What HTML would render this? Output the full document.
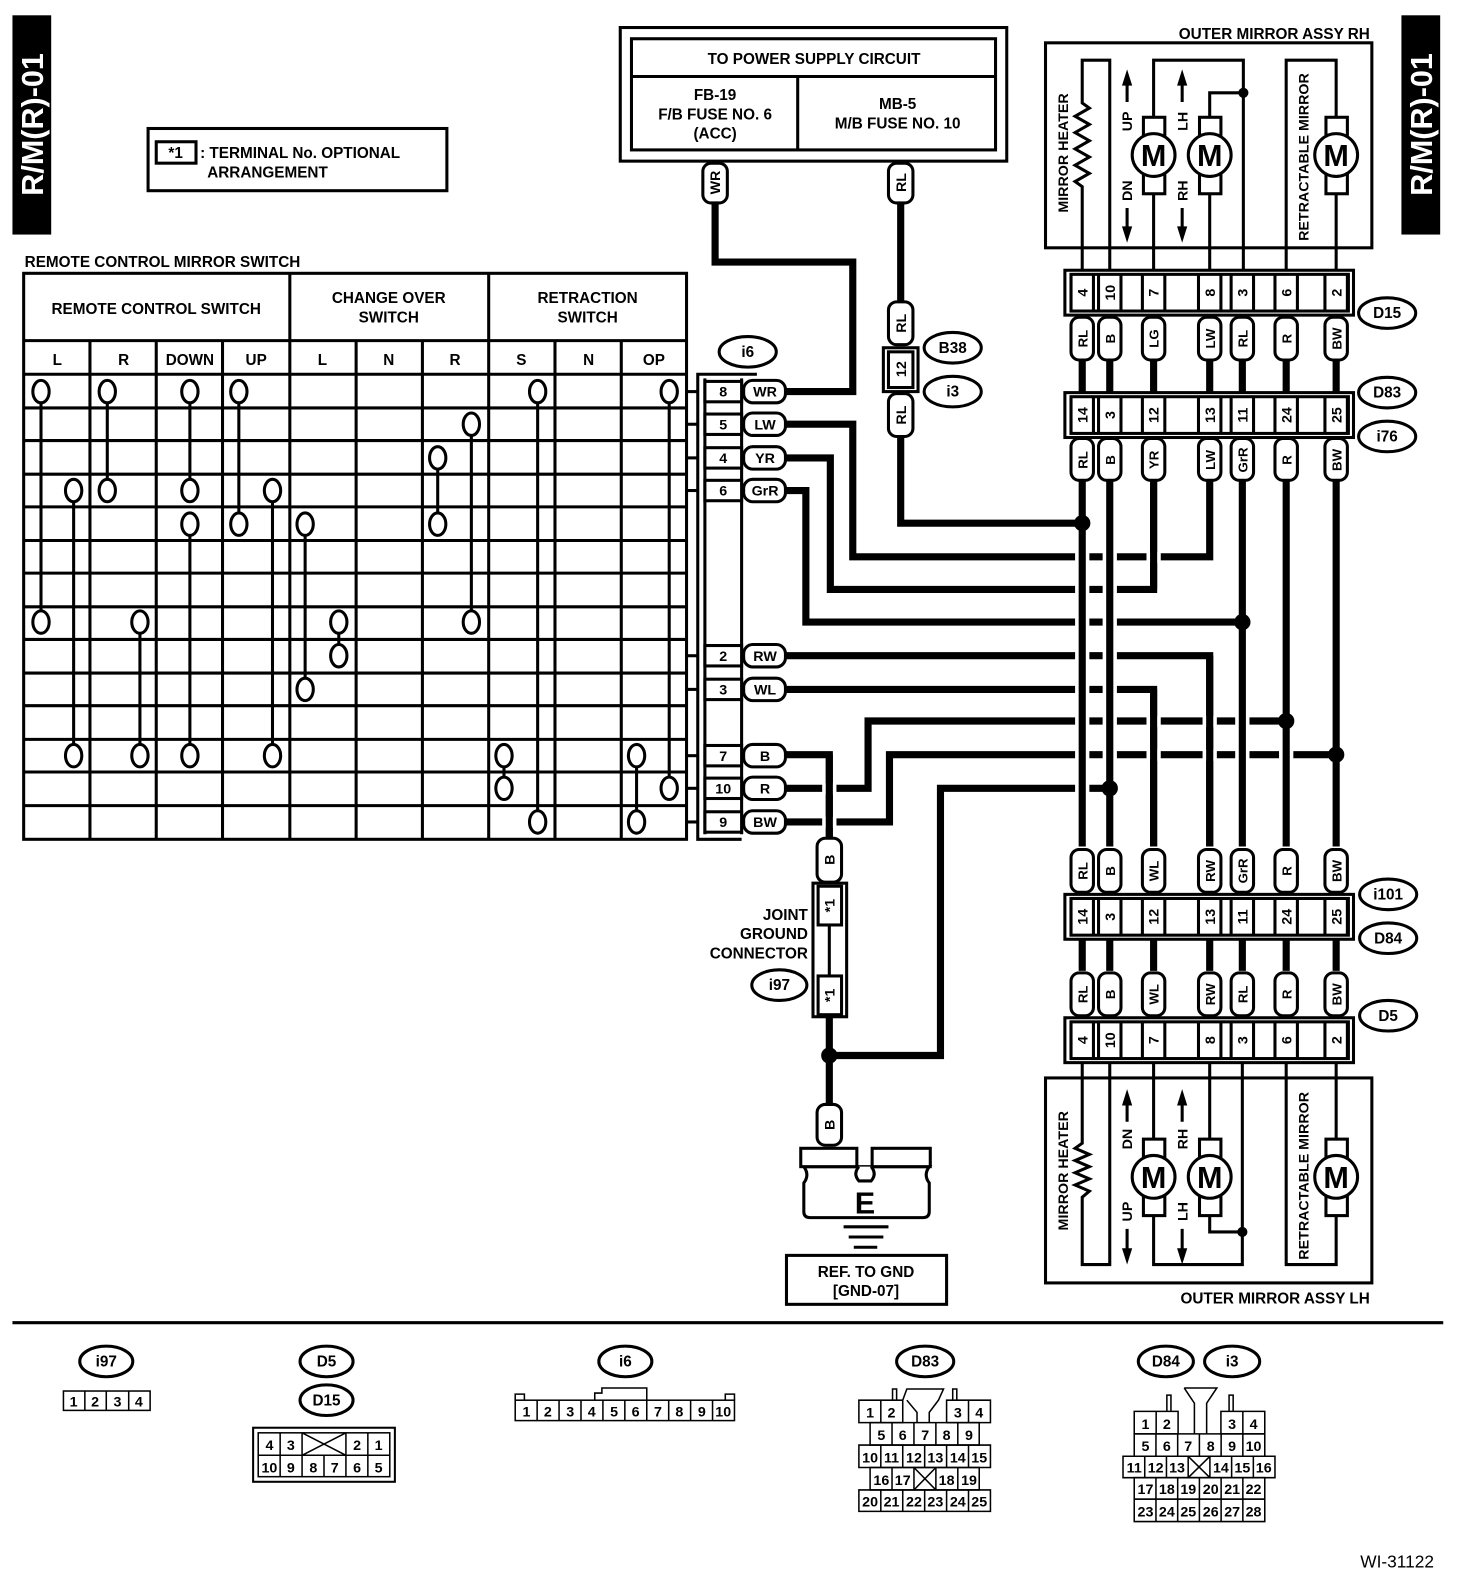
<!DOCTYPE html>
<html><head><meta charset="utf-8"><style>
html,body{margin:0;padding:0;background:#fff;}
svg{display:block;}
text{font-family:"Liberation Sans",Arial,sans-serif;font-weight:bold;fill:#000;}
</style></head><body>
<svg width="1472" height="1596" viewBox="0 0 1443 1565" xmlns="http://www.w3.org/2000/svg">
<rect width="1443" height="1565" fill="#fff"/>
<!-- side tags -->
<rect x="12" y="15" width="38" height="215" fill="#000"/>
<text transform="translate(42,122) rotate(-90)" text-anchor="middle" font-size="30" style="fill:#fff">R/M(R)-01</text>
<rect x="1374" y="15" width="38" height="215" fill="#000"/>
<text transform="translate(1404,122) rotate(-90)" text-anchor="middle" font-size="30" style="fill:#fff">R/M(R)-01</text>

<!-- legend -->
<rect x="145" y="126" width="293" height="61" fill="none" stroke="#000" stroke-width="3"/>
<rect x="153" y="139" width="39" height="21" fill="none" stroke="#000" stroke-width="3"/>
<text x="172" y="155" text-anchor="middle" font-size="15">*1</text>
<text x="196" y="155" font-size="15">: TERMINAL No. OPTIONAL</text>
<text x="203" y="174" font-size="15">ARRANGEMENT</text>

<!-- table -->
<text x="24" y="262" font-size="15">REMOTE CONTROL MIRROR SWITCH</text>
<g stroke="#000" stroke-width="3" fill="none">
<rect x="23" y="268" width="650" height="555"/>
<line x1="23" y1="334" x2="673" y2="334"/>
<line x1="23" y1="367" x2="673" y2="367"/>
<line x1="23" y1="400" x2="673" y2="400"/><line x1="23" y1="432" x2="673" y2="432"/>
<line x1="23" y1="465" x2="673" y2="465"/><line x1="23" y1="497" x2="673" y2="497"/>
<line x1="23" y1="530" x2="673" y2="530"/><line x1="23" y1="562" x2="673" y2="562"/>
<line x1="23" y1="595" x2="673" y2="595"/><line x1="23" y1="627" x2="673" y2="627"/>
<line x1="23" y1="660" x2="673" y2="660"/><line x1="23" y1="692" x2="673" y2="692"/>
<line x1="23" y1="725" x2="673" y2="725"/><line x1="23" y1="757" x2="673" y2="757"/>
<line x1="23" y1="790" x2="673" y2="790"/>
<line x1="284" y1="268" x2="284" y2="823"/><line x1="479" y1="268" x2="479" y2="823"/>
<line x1="88" y1="334" x2="88" y2="823"/><line x1="153" y1="334" x2="153" y2="823"/>
<line x1="218" y1="334" x2="218" y2="823"/><line x1="349" y1="334" x2="349" y2="823"/>
<line x1="414" y1="334" x2="414" y2="823"/><line x1="544" y1="334" x2="544" y2="823"/>
<line x1="609" y1="334" x2="609" y2="823"/>
<!-- connection lines -->
<line x1="40" y1="384" x2="40" y2="610"/><line x1="105" y1="384" x2="105" y2="481"/>
<line x1="186" y1="384" x2="186" y2="481"/><line x1="186" y1="514" x2="186" y2="741"/>
<line x1="234" y1="384" x2="234" y2="514"/><line x1="267" y1="481" x2="267" y2="741"/>
<line x1="72" y1="481" x2="72" y2="741"/><line x1="137" y1="610" x2="137" y2="741"/>
<line x1="299" y1="514" x2="299" y2="676"/><line x1="332" y1="610" x2="332" y2="643"/>
<line x1="429" y1="449" x2="429" y2="514"/><line x1="462" y1="416" x2="462" y2="610"/>
<line x1="527" y1="384" x2="527" y2="806"/><line x1="494" y1="741" x2="494" y2="773"/>
<line x1="624" y1="741" x2="624" y2="806"/><line x1="656" y1="384" x2="656" y2="773"/>
<!-- stubs to i6 -->
<line x1="673" y1="384" x2="684" y2="384"/><line x1="673" y1="416" x2="684" y2="416"/>
<line x1="673" y1="449" x2="684" y2="449"/><line x1="673" y1="481" x2="684" y2="481"/>
<line x1="673" y1="643" x2="684" y2="643"/><line x1="673" y1="676" x2="684" y2="676"/>
<line x1="673" y1="741" x2="684" y2="741"/><line x1="673" y1="773" x2="684" y2="773"/>
<line x1="673" y1="806" x2="684" y2="806"/>
</g>
<g fill="#fff" stroke="#000" stroke-width="3">
<ellipse cx="40" cy="384" rx="8" ry="11"/><ellipse cx="105" cy="384" rx="8" ry="11"/><ellipse cx="186" cy="384" rx="8" ry="11"/><ellipse cx="234" cy="384" rx="8" ry="11"/><ellipse cx="527" cy="384" rx="8" ry="11"/><ellipse cx="656" cy="384" rx="8" ry="11"/>
<ellipse cx="462" cy="416" rx="8" ry="11"/><ellipse cx="429" cy="449" rx="8" ry="11"/>
<ellipse cx="72" cy="481" rx="8" ry="11"/><ellipse cx="105" cy="481" rx="8" ry="11"/><ellipse cx="186" cy="481" rx="8" ry="11"/><ellipse cx="267" cy="481" rx="8" ry="11"/>
<ellipse cx="186" cy="514" rx="8" ry="11"/><ellipse cx="234" cy="514" rx="8" ry="11"/><ellipse cx="299" cy="514" rx="8" ry="11"/><ellipse cx="429" cy="514" rx="8" ry="11"/>
<ellipse cx="40" cy="610" rx="8" ry="11"/><ellipse cx="137" cy="610" rx="8" ry="11"/><ellipse cx="332" cy="610" rx="8" ry="11"/><ellipse cx="462" cy="610" rx="8" ry="11"/>
<ellipse cx="332" cy="643" rx="8" ry="11"/><ellipse cx="299" cy="676" rx="8" ry="11"/>
<ellipse cx="72" cy="741" rx="8" ry="11"/><ellipse cx="137" cy="741" rx="8" ry="11"/><ellipse cx="186" cy="741" rx="8" ry="11"/><ellipse cx="267" cy="741" rx="8" ry="11"/><ellipse cx="494" cy="741" rx="8" ry="11"/><ellipse cx="624" cy="741" rx="8" ry="11"/>
<ellipse cx="494" cy="773" rx="8" ry="11"/><ellipse cx="656" cy="773" rx="8" ry="11"/>
<ellipse cx="527" cy="806" rx="8" ry="11"/><ellipse cx="624" cy="806" rx="8" ry="11"/>
</g>
<g font-size="15" text-anchor="middle">
<text x="153" y="308">REMOTE CONTROL SWITCH</text>
<text x="381" y="297">CHANGE OVER</text><text x="381" y="316">SWITCH</text>
<text x="576" y="297">RETRACTION</text><text x="576" y="316">SWITCH</text>
<text x="56" y="358">L</text><text x="121" y="358">R</text><text x="186" y="358">DOWN</text><text x="251" y="358">UP</text>
<text x="316" y="358">L</text><text x="381" y="358">N</text><text x="446" y="358">R</text>
<text x="511" y="358">S</text><text x="577" y="358">N</text><text x="641" y="358">OP</text>
</g>

<!-- power supply box -->
<rect x="608" y="27" width="379" height="131" fill="none" stroke="#000" stroke-width="3"/>
<rect x="619" y="38" width="357" height="109" fill="none" stroke="#000" stroke-width="3"/>
<line x1="619" y1="75" x2="976" y2="75" stroke="#000" stroke-width="3"/>
<line x1="782" y1="75" x2="782" y2="147" stroke="#000" stroke-width="3"/>
<g font-size="15" text-anchor="middle">
<text x="798" y="63">TO POWER SUPPLY CIRCUIT</text>
<text x="701" y="98">FB-19</text><text x="701" y="117">F/B FUSE NO. 6</text><text x="701" y="136">(ACC)</text>
<text x="880" y="107">MB-5</text><text x="880" y="126">M/B FUSE NO. 10</text>
</g>

<!-- wires -->
<g fill="none" stroke="#000" stroke-width="7" stroke-linejoin="miter">
<path d="M701 198 V257 H836 V384 H770"/>
<path d="M883 198 V296"/>
<path d="M883 427 V513 H1061"/>
<path d="M770 416 H836 V546 H1186 V470"/>
<path d="M770 449 H814 V578 H1131 V470"/>
<path d="M770 481 H790 V610 H1218"/>
<path d="M770 643 H1186 V830"/>
<path d="M770 676 H1131 V830"/>
<path d="M770 740 H813 V822"/>
<path d="M770 773 H851 V707 H1261"/>
<path d="M770 806 H872 V740 H1310"/>
<path d="M813 997 V1083"/>
<path d="M813 1035 H922 V773 H1088"/>
</g>
<!-- gaps -->
<g fill="#fff">
<rect x="1054" y="541" width="14" height="11"/><rect x="1081" y="541" width="14" height="11"/><rect x="1124" y="541" width="14" height="11"/>
<rect x="1054" y="573" width="14" height="11"/><rect x="1081" y="573" width="14" height="11"/>
<rect x="1054" y="605" width="14" height="11"/><rect x="1081" y="605" width="14" height="11"/>
<rect x="1054" y="638" width="14" height="11"/><rect x="1081" y="638" width="14" height="11"/>
<rect x="1054" y="671" width="14" height="11"/><rect x="1081" y="671" width="14" height="11"/>
<rect x="1054" y="702" width="14" height="11"/><rect x="1081" y="702" width="14" height="11"/><rect x="1124" y="702" width="14" height="11"/><rect x="1179" y="702" width="14" height="11"/><rect x="1211" y="702" width="14" height="11"/>
<rect x="1054" y="735" width="14" height="11"/><rect x="1081" y="735" width="14" height="11"/><rect x="1124" y="735" width="14" height="11"/><rect x="1179" y="735" width="14" height="11"/><rect x="1211" y="735" width="14" height="11"/><rect x="1254" y="735" width="14" height="11"/>
<rect x="1054" y="768" width="14" height="11"/>
<rect x="806" y="768" width="14" height="11"/><rect x="806" y="801" width="14" height="11"/>
</g>
<g fill="none" stroke="#000" stroke-width="7">
<path d="M1061 470 V830"/><path d="M1088 470 V830"/><path d="M1218 470 V830"/><path d="M1261 470 V830"/><path d="M1310 470 V830"/>
<path d="M1131 470 V578"/><path d="M1131 676 V830"/><path d="M1186 643 V830"/>
<path d="M813 740 V822"/>
<!-- connector to connector short wires -->
<path d="M1061 353 V385 M1088 353 V385 M1131 353 V385 M1186 353 V385 M1218 353 V385 M1261 353 V385 M1310 353 V385"/>
<path d="M1061 921 V952 M1088 921 V952 M1131 921 V952 M1186 921 V952 M1218 921 V952 M1261 921 V952 M1310 921 V952"/>
</g>
<g fill="#000">
<circle cx="1061" cy="513" r="8"/><circle cx="1218" cy="610" r="8"/><circle cx="1261" cy="707" r="8"/><circle cx="1310" cy="740" r="8"/><circle cx="1088" cy="773" r="8"/><circle cx="813" cy="1035" r="8"/>
</g>

<!-- i6 connector -->
<g fill="none" stroke="#000" stroke-width="3">
<path d="M742 367 H684 V823 H727"/>
<line x1="691" y1="371" x2="691" y2="818"/><line x1="727" y1="371" x2="727" y2="818"/>
</g>
<g fill="#fff" stroke="#000" stroke-width="3">
<rect x="691" y="374" width="36" height="20"/><rect x="691" y="406" width="36" height="20"/><rect x="691" y="439" width="36" height="20"/><rect x="691" y="471" width="36" height="20"/>
<rect x="691" y="633" width="36" height="20"/><rect x="691" y="666" width="36" height="20"/><rect x="691" y="731" width="36" height="20"/><rect x="691" y="763" width="36" height="20"/><rect x="691" y="796" width="36" height="20"/>
<rect x="729" y="373" width="41" height="22" rx="9"/><rect x="729" y="405" width="41" height="22" rx="9"/><rect x="729" y="438" width="41" height="22" rx="9"/><rect x="729" y="470" width="41" height="22" rx="9"/>
<rect x="729" y="632" width="41" height="22" rx="9"/><rect x="729" y="665" width="41" height="22" rx="9"/><rect x="729" y="730" width="41" height="22" rx="9"/><rect x="729" y="762" width="41" height="22" rx="9"/><rect x="729" y="795" width="41" height="22" rx="9"/>
</g>
<g font-size="14" text-anchor="middle">
<text x="709" y="389">8</text><text x="709" y="421">5</text><text x="709" y="454">4</text><text x="709" y="486">6</text>
<text x="709" y="648">2</text><text x="709" y="681">3</text><text x="709" y="746">7</text><text x="709" y="778">10</text><text x="709" y="811">9</text>
<text x="750" y="389">WR</text><text x="750" y="421">LW</text><text x="750" y="454">YR</text><text x="750" y="486">GrR</text>
<text x="750" y="648">RW</text><text x="750" y="681">WL</text><text x="750" y="746">B</text><text x="750" y="778">R</text><text x="750" y="811">BW</text>
</g>

<!-- ovals -->
<g fill="#fff" stroke="#000" stroke-width="3">
<ellipse cx="733" cy="345" rx="28" ry="15"/>
<ellipse cx="934" cy="341" rx="28" ry="15"/><ellipse cx="934" cy="384" rx="28" ry="15"/>
<ellipse cx="1360" cy="307" rx="28" ry="15"/><ellipse cx="1360" cy="385" rx="28" ry="15"/><ellipse cx="1360" cy="428" rx="28" ry="15"/>
<ellipse cx="1361" cy="877" rx="28" ry="15"/><ellipse cx="1361" cy="920" rx="28" ry="15"/><ellipse cx="1361" cy="996" rx="28" ry="15"/>
<ellipse cx="764" cy="966" rx="27" ry="15"/>
<ellipse cx="104" cy="1335" rx="26" ry="15"/><ellipse cx="320" cy="1335" rx="26" ry="15"/><ellipse cx="320" cy="1373" rx="26" ry="15"/>
<ellipse cx="613" cy="1335" rx="26" ry="15"/><ellipse cx="907" cy="1335" rx="28" ry="15"/>
<ellipse cx="1143" cy="1335" rx="27" ry="15"/><ellipse cx="1208" cy="1335" rx="27" ry="15"/>
</g>
<g font-size="15" text-anchor="middle">
<text x="733" y="350">i6</text><text x="934" y="346">B38</text><text x="934" y="389">i3</text>
<text x="1360" y="312">D15</text><text x="1360" y="390">D83</text><text x="1360" y="433">i76</text>
<text x="1361" y="882">i101</text><text x="1361" y="925">D84</text><text x="1361" y="1001">D5</text>
<text x="764" y="971">i97</text>
<text x="104" y="1340">i97</text><text x="320" y="1340">D5</text><text x="320" y="1378">D15</text>
<text x="613" y="1340">i6</text><text x="907" y="1340">D83</text><text x="1143" y="1340">D84</text><text x="1208" y="1340">i3</text>
</g>

<!-- vertical tags -->
<g fill="#fff" stroke="#000" stroke-width="3">
<rect x="689" y="160" width="24" height="39" rx="8"/>
<rect x="871" y="160" width="24" height="39" rx="8"/>
<rect x="871" y="296" width="24" height="42" rx="8"/>
<rect x="871" y="386" width="24" height="42" rx="8"/>
<rect x="866" y="341" width="34" height="43"/>
<rect x="871" y="345" width="24" height="35"/>
<rect x="801" y="822" width="24" height="43" rx="8"/>
<rect x="801" y="1083" width="24" height="40" rx="8"/>
</g>
<g font-size="14" text-anchor="middle">
<text transform="translate(706,179) rotate(-90)">WR</text>
<text transform="translate(888,179) rotate(-90)">RL</text>
<text transform="translate(888,317) rotate(-90)">RL</text>
<text transform="translate(888,362) rotate(-90)">12</text>
<text transform="translate(888,407) rotate(-90)">RL</text>
<text transform="translate(818,843) rotate(-90)">B</text>
<text transform="translate(818,1103) rotate(-90)">B</text>
</g>

<!-- right connector strips -->
<g fill="none" stroke="#000" stroke-width="3">
<rect x="1044" y="265" width="283" height="44"/><rect x="1050" y="269" width="272" height="36" fill="#fff"/>
<rect x="1044" y="385" width="283" height="44"/><rect x="1050" y="389" width="272" height="36" fill="#fff"/>
<rect x="1044" y="877" width="283" height="44"/><rect x="1050" y="881" width="272" height="36" fill="#fff"/>
<rect x="1044" y="998" width="283" height="44"/><rect x="1050" y="1002" width="272" height="36" fill="#fff"/>
<path d="M1050 269 V305 M1072 269 V305 M1077 269 V305 M1099 269 V305 M1120 269 V305 M1142 269 V305 M1175 269 V305 M1197 269 V305 M1207 269 V305 M1229 269 V305 M1250 269 V305 M1272 269 V305 M1299 269 V305 M1321 269 V305"/>
<path d="M1050 389 V425 M1072 389 V425 M1077 389 V425 M1099 389 V425 M1120 389 V425 M1142 389 V425 M1175 389 V425 M1197 389 V425 M1207 389 V425 M1229 389 V425 M1250 389 V425 M1272 389 V425 M1299 389 V425 M1321 389 V425"/>
<path d="M1050 881 V917 M1072 881 V917 M1077 881 V917 M1099 881 V917 M1120 881 V917 M1142 881 V917 M1175 881 V917 M1197 881 V917 M1207 881 V917 M1229 881 V917 M1250 881 V917 M1272 881 V917 M1299 881 V917 M1321 881 V917"/>
<path d="M1050 1002 V1038 M1072 1002 V1038 M1077 1002 V1038 M1099 1002 V1038 M1120 1002 V1038 M1142 1002 V1038 M1175 1002 V1038 M1197 1002 V1038 M1207 1002 V1038 M1229 1002 V1038 M1250 1002 V1038 M1272 1002 V1038 M1299 1002 V1038 M1321 1002 V1038"/>
</g>
<g font-size="14" text-anchor="middle">
<text transform="translate(1066,287) rotate(-90)">4</text><text transform="translate(1093,287) rotate(-90)">10</text><text transform="translate(1136,287) rotate(-90)">7</text><text transform="translate(1191,287) rotate(-90)">8</text><text transform="translate(1223,287) rotate(-90)">3</text><text transform="translate(1266,287) rotate(-90)">6</text><text transform="translate(1315,287) rotate(-90)">2</text>
<text transform="translate(1066,407) rotate(-90)">14</text><text transform="translate(1093,407) rotate(-90)">3</text><text transform="translate(1136,407) rotate(-90)">12</text><text transform="translate(1191,407) rotate(-90)">13</text><text transform="translate(1223,407) rotate(-90)">11</text><text transform="translate(1266,407) rotate(-90)">24</text><text transform="translate(1315,407) rotate(-90)">25</text>
<text transform="translate(1066,899) rotate(-90)">14</text><text transform="translate(1093,899) rotate(-90)">3</text><text transform="translate(1136,899) rotate(-90)">12</text><text transform="translate(1191,899) rotate(-90)">13</text><text transform="translate(1223,899) rotate(-90)">11</text><text transform="translate(1266,899) rotate(-90)">24</text><text transform="translate(1315,899) rotate(-90)">25</text>
<text transform="translate(1066,1020) rotate(-90)">4</text><text transform="translate(1093,1020) rotate(-90)">10</text><text transform="translate(1136,1020) rotate(-90)">7</text><text transform="translate(1191,1020) rotate(-90)">8</text><text transform="translate(1223,1020) rotate(-90)">3</text><text transform="translate(1266,1020) rotate(-90)">6</text><text transform="translate(1315,1020) rotate(-90)">2</text>
</g>
<!-- right tags -->
<g fill="#fff" stroke="#000" stroke-width="3">
<rect x="1050" y="311" width="22" height="42" rx="8"/><rect x="1077" y="311" width="22" height="42" rx="8"/><rect x="1120" y="311" width="22" height="42" rx="8"/><rect x="1175" y="311" width="22" height="42" rx="8"/><rect x="1207" y="311" width="22" height="42" rx="8"/><rect x="1250" y="311" width="22" height="42" rx="8"/><rect x="1299" y="311" width="22" height="42" rx="8"/>
<rect x="1050" y="430" width="22" height="41" rx="8"/><rect x="1077" y="430" width="22" height="41" rx="8"/><rect x="1120" y="430" width="22" height="41" rx="8"/><rect x="1175" y="430" width="22" height="41" rx="8"/><rect x="1207" y="430" width="22" height="41" rx="8"/><rect x="1250" y="430" width="22" height="41" rx="8"/><rect x="1299" y="430" width="22" height="41" rx="8"/>
<rect x="1050" y="833" width="22" height="42" rx="8"/><rect x="1077" y="833" width="22" height="42" rx="8"/><rect x="1120" y="833" width="22" height="42" rx="8"/><rect x="1175" y="833" width="22" height="42" rx="8"/><rect x="1207" y="833" width="22" height="42" rx="8"/><rect x="1250" y="833" width="22" height="42" rx="8"/><rect x="1299" y="833" width="22" height="42" rx="8"/>
<rect x="1050" y="954" width="22" height="42" rx="8"/><rect x="1077" y="954" width="22" height="42" rx="8"/><rect x="1120" y="954" width="22" height="42" rx="8"/><rect x="1175" y="954" width="22" height="42" rx="8"/><rect x="1207" y="954" width="22" height="42" rx="8"/><rect x="1250" y="954" width="22" height="42" rx="8"/><rect x="1299" y="954" width="22" height="42" rx="8"/>
</g>
<g font-size="13" text-anchor="middle">
<text transform="translate(1066,332) rotate(-90)">RL</text><text transform="translate(1093,332) rotate(-90)">B</text><text transform="translate(1136,332) rotate(-90)">LG</text><text transform="translate(1191,332) rotate(-90)">LW</text><text transform="translate(1223,332) rotate(-90)">RL</text><text transform="translate(1266,332) rotate(-90)">R</text><text transform="translate(1315,332) rotate(-90)">BW</text>
<text transform="translate(1066,451) rotate(-90)">RL</text><text transform="translate(1093,451) rotate(-90)">B</text><text transform="translate(1136,451) rotate(-90)">YR</text><text transform="translate(1191,451) rotate(-90)">LW</text><text transform="translate(1223,451) rotate(-90)">GrR</text><text transform="translate(1266,451) rotate(-90)">R</text><text transform="translate(1315,451) rotate(-90)">BW</text>
<text transform="translate(1066,854) rotate(-90)">RL</text><text transform="translate(1093,854) rotate(-90)">B</text><text transform="translate(1136,854) rotate(-90)">WL</text><text transform="translate(1191,854) rotate(-90)">RW</text><text transform="translate(1223,854) rotate(-90)">GrR</text><text transform="translate(1266,854) rotate(-90)">R</text><text transform="translate(1315,854) rotate(-90)">BW</text>
<text transform="translate(1066,975) rotate(-90)">RL</text><text transform="translate(1093,975) rotate(-90)">B</text><text transform="translate(1136,975) rotate(-90)">WL</text><text transform="translate(1191,975) rotate(-90)">RW</text><text transform="translate(1223,975) rotate(-90)">RL</text><text transform="translate(1266,975) rotate(-90)">R</text><text transform="translate(1315,975) rotate(-90)">BW</text>
</g>

<!-- upper mirror RH -->
<text x="1343" y="38" text-anchor="end" font-size="15">OUTER MIRROR ASSY RH</text>
<rect x="1025" y="42" width="320" height="201" fill="none" stroke="#000" stroke-width="3"/>
<g fill="none" stroke="#000" stroke-width="3">
<path d="M1061 265 V183 L1054 178 L1068 170 L1054 162 L1068 154 L1054 146 L1068 138 L1054 130 L1068 122 L1054 114 L1068 106 L1061 101 V59 H1088 V265"/>
<path d="M1131 265 V190 M1131 115 V59 H1219 V265"/>
<path d="M1186 265 V190 M1186 115 V91 H1219"/>
<path d="M1261 265 V59 H1310 V115 M1310 190 V265"/>
<rect x="1121" y="115" width="21" height="75" fill="#fff"/>
<rect x="1176" y="115" width="21" height="75" fill="#fff"/>
<rect x="1300" y="115" width="21" height="75" fill="#fff"/>
<circle cx="1131" cy="152" r="21" fill="#fff"/><circle cx="1186" cy="152" r="21" fill="#fff"/><circle cx="1310" cy="152" r="21" fill="#fff"/>
<path d="M1105 82 V100 M1105 204 V225 M1159 82 V100 M1159 204 V225"/>
</g>
<circle cx="1219" cy="91" r="5" fill="#000"/>
<g fill="#000"><path d="M1105 68 L1100 84 H1110Z M1105 238 L1100 222 H1110Z M1159 68 L1154 84 H1164Z M1159 238 L1154 222 H1164Z"/></g>
<g font-size="30" text-anchor="middle"><text x="1131" y="163">M</text><text x="1186" y="163">M</text><text x="1310" y="163">M</text></g>
<g font-size="14" text-anchor="middle">
<text transform="translate(1047,150) rotate(-90)">MIRROR HEATER</text>
<text transform="translate(1283,154) rotate(-90)">RETRACTABLE MIRROR</text>
<text transform="translate(1110,119) rotate(-90)">UP</text><text transform="translate(1110,187) rotate(-90)">DN</text>
<text transform="translate(1164,119) rotate(-90)">LH</text><text transform="translate(1164,187) rotate(-90)">RH</text>
</g>

<!-- lower mirror LH -->
<rect x="1025" y="1057" width="320" height="201" fill="none" stroke="#000" stroke-width="3"/>
<g fill="none" stroke="#000" stroke-width="3">
<path d="M1061 1042 V1121 L1054 1126 L1068 1132 L1054 1138 L1068 1144 L1054 1150 L1068 1156 L1054 1162 L1068 1168 L1061 1174 V1240 H1088 V1042"/>
<path d="M1131 1042 V1117 M1131 1192 V1240 H1218 V1042"/>
<path d="M1186 1042 V1117 M1186 1192 V1208 H1218"/>
<path d="M1310 1042 V1117 M1310 1192 V1240 H1261 V1042"/>
<rect x="1121" y="1117" width="21" height="75" fill="#fff"/>
<rect x="1176" y="1117" width="21" height="75" fill="#fff"/>
<rect x="1300" y="1117" width="21" height="75" fill="#fff"/>
<circle cx="1131" cy="1154" r="21" fill="#fff"/><circle cx="1186" cy="1154" r="21" fill="#fff"/><circle cx="1310" cy="1154" r="21" fill="#fff"/>
<path d="M1105 1082 V1100 M1105 1205 V1226 M1159 1082 V1100 M1159 1205 V1226"/>
</g>
<circle cx="1218" cy="1208" r="5" fill="#000"/>
<g fill="#000"><path d="M1105 1068 L1100 1084 H1110Z M1105 1240 L1100 1224 H1110Z M1159 1068 L1154 1084 H1164Z M1159 1240 L1154 1224 H1164Z"/></g>
<g font-size="30" text-anchor="middle"><text x="1131" y="1165">M</text><text x="1186" y="1165">M</text><text x="1310" y="1165">M</text></g>
<g font-size="14" text-anchor="middle">
<text transform="translate(1047,1148) rotate(-90)">MIRROR HEATER</text>
<text transform="translate(1283,1153) rotate(-90)">RETRACTABLE MIRROR</text>
<text transform="translate(1110,1117) rotate(-90)">DN</text><text transform="translate(1110,1188) rotate(-90)">UP</text>
<text transform="translate(1164,1117) rotate(-90)">RH</text><text transform="translate(1164,1188) rotate(-90)">LH</text>
</g>
<text x="1343" y="1278" text-anchor="end" font-size="15">OUTER MIRROR ASSY LH</text>

<!-- joint ground connector -->
<g fill="#fff" stroke="#000" stroke-width="3">
<rect x="797" y="866" width="33" height="131"/>
<rect x="802" y="869" width="23" height="38"/>
<rect x="802" y="957" width="23" height="38"/>
</g>
<line x1="813" y1="907" x2="813" y2="957" stroke="#000" stroke-width="3"/>
<g font-size="14" text-anchor="middle">
<text transform="translate(818,888) rotate(-90)">*1</text>
<text transform="translate(818,976) rotate(-90)">*1</text>
</g>
<g font-size="15" text-anchor="end">
<text x="792" y="902">JOINT</text><text x="792" y="921">GROUND</text><text x="792" y="940">CONNECTOR</text>
</g>
<!-- ground E -->
<g fill="#fff" stroke="#000" stroke-width="3">
<path d="M788 1144 H911 Q905 1152 911 1160 V1188 Q911 1194 905 1194 H794 Q788 1194 788 1188 V1160 Q794 1152 788 1144 Z"/>
<path d="M842 1144 Q836 1151 842 1158 H854 Q860 1151 854 1144"/>
<rect x="785" y="1126" width="55" height="18"/>
<rect x="855" y="1126" width="57" height="18"/>
</g>
<text x="848" y="1190" text-anchor="middle" font-size="30">E</text>
<g stroke="#000" stroke-width="3"><line x1="827" y1="1203" x2="871" y2="1203"/><line x1="832" y1="1213" x2="866" y2="1213"/><line x1="837" y1="1223" x2="860" y2="1223"/></g>
<rect x="771" y="1231" width="157" height="48" fill="none" stroke="#000" stroke-width="3"/>
<g font-size="15" text-anchor="middle"><text x="849" y="1252">REF. TO GND</text><text x="849" y="1271">[GND-07]</text></g>

<line x1="12" y1="1297" x2="1415" y2="1297" stroke="#000" stroke-width="3"/>

<!-- bottom connector diagrams -->
<g fill="none" stroke="#000" stroke-width="1.5">
<rect x="62" y="1364" width="85" height="19"/><path d="M83 1364 V1383 M104 1364 V1383 M126 1364 V1383"/>
<rect x="248" y="1400" width="139" height="53" stroke-width="2"/>
<rect x="253" y="1405" width="129" height="43"/><path d="M253 1427 H382 M274.5 1405 V1448 M296 1405 V1448 M317.5 1427 V1448 M339 1405 V1448 M360.5 1405 V1448 M296 1405 L339 1427 M339 1405 L296 1427"/>
<rect x="505" y="1373" width="215" height="20"/><path d="M526.5 1373 V1393 M548 1373 V1393 M569.5 1373 V1393 M591 1373 V1393 M612.5 1373 V1393 M634 1373 V1393 M655.5 1373 V1393 M677 1373 V1393 M698.5 1373 V1393 M583 1373 V1366 H590 V1361 H634 V1373 M505 1373 V1367 H514 V1373 M711 1373 V1367 H720 V1373"/>
<!-- D83 -->
<path d="M842 1373 H885 V1395 H842 Z M863.5 1373 V1395 M928 1373 H971 V1395 H928 Z M949.5 1373 V1395"/>
<path d="M885 1373 L889 1362 H925 L920 1373 L911 1385 V1395 M899 1395 V1385 L889 1373"/>
<path d="M875 1373 V1362 H879 V1373 M934 1373 V1362 H938 V1373"/>
<path d="M853 1395 H960 V1417 H853 Z M874.5 1395 V1417 M896 1395 V1417 M917.5 1395 V1417 M939 1395 V1417"/>
<path d="M842 1417 H971 V1439 H842 Z M863.5 1417 V1439 M885 1417 V1439 M906.5 1417 V1439 M928 1417 V1439 M949.5 1417 V1439"/>
<path d="M853 1439 H960 V1461 H853 Z M874.5 1439 V1461 M896 1439 V1461 M917.5 1439 V1461 M939 1439 V1461 M896 1439 L917.5 1461 M917.5 1439 L896 1461"/>
<path d="M842 1461 H971 V1482 H842 Z M863.5 1461 V1482 M885 1461 V1482 M906.5 1461 V1482 M928 1461 V1482 M949.5 1461 V1482"/>
<!-- D84 -->
<path d="M1112 1384 H1155 V1406 H1112 Z M1133.5 1384 V1406 M1197 1384 H1240 V1406 H1197 Z M1218.5 1384 V1406"/>
<path d="M1161 1361 H1193 L1183 1376 V1406 M1171 1406 V1376 L1161 1361"/>
<path d="M1144 1384 V1368 H1148 V1384 M1205 1384 V1368 H1209 V1384"/>
<path d="M1112 1406 H1240 V1428 H1112 Z M1133.3 1406 V1428 M1154.6 1406 V1428 M1175.9 1406 V1428 M1197.2 1406 V1428 M1218.5 1406 V1428"/>
<path d="M1101 1428 H1250 V1449 H1101 Z M1122.3 1428 V1449 M1143.6 1428 V1449 M1164.9 1428 V1449 M1186.2 1428 V1449 M1207.5 1428 V1449 M1228.8 1428 V1449 M1164.9 1428 L1186.2 1449 M1186.2 1428 L1164.9 1449"/>
<path d="M1112 1449 H1240 V1470 H1112 Z M1133.3 1449 V1470 M1154.6 1449 V1470 M1175.9 1449 V1470 M1197.2 1449 V1470 M1218.5 1449 V1470"/>
<path d="M1112 1470 H1240 V1492 H1112 Z M1133.3 1470 V1492 M1154.6 1470 V1492 M1175.9 1470 V1492 M1197.2 1470 V1492 M1218.5 1470 V1492"/>
</g>
<g font-size="14" text-anchor="middle" style="font-weight:normal">
<text x="72" y="1379">1</text><text x="93" y="1379">2</text><text x="115" y="1379">3</text><text x="136" y="1379">4</text>
<text x="264" y="1422">4</text><text x="285" y="1422">3</text><text x="350" y="1422">2</text><text x="371" y="1422">1</text>
<text x="264" y="1444">10</text><text x="285" y="1444">9</text><text x="307" y="1444">8</text><text x="328" y="1444">7</text><text x="350" y="1444">6</text><text x="371" y="1444">5</text>
<text x="516" y="1389">1</text><text x="537" y="1389">2</text><text x="559" y="1389">3</text><text x="580" y="1389">4</text><text x="602" y="1389">5</text><text x="623" y="1389">6</text><text x="645" y="1389">7</text><text x="666" y="1389">8</text><text x="688" y="1389">9</text><text x="709" y="1389">10</text>
<text x="853" y="1390">1</text><text x="874" y="1390">2</text><text x="939" y="1390">3</text><text x="960" y="1390">4</text>
<text x="864" y="1412">5</text><text x="885" y="1412">6</text><text x="907" y="1412">7</text><text x="928" y="1412">8</text><text x="950" y="1412">9</text>
<text x="853" y="1434">10</text><text x="874" y="1434">11</text><text x="896" y="1434">12</text><text x="917" y="1434">13</text><text x="939" y="1434">14</text><text x="960" y="1434">15</text>
<text x="864" y="1456">16</text><text x="885" y="1456">17</text><text x="928" y="1456">18</text><text x="950" y="1456">19</text>
<text x="853" y="1477">20</text><text x="874" y="1477">21</text><text x="896" y="1477">22</text><text x="917" y="1477">23</text><text x="939" y="1477">24</text><text x="960" y="1477">25</text>
<text x="1123" y="1401">1</text><text x="1144" y="1401">2</text><text x="1208" y="1401">3</text><text x="1229" y="1401">4</text>
<text x="1123" y="1423">5</text><text x="1144" y="1423">6</text><text x="1165" y="1423">7</text><text x="1187" y="1423">8</text><text x="1208" y="1423">9</text><text x="1229" y="1423">10</text>
<text x="1112" y="1444">11</text><text x="1133" y="1444">12</text><text x="1154" y="1444">13</text><text x="1197" y="1444">14</text><text x="1218" y="1444">15</text><text x="1239" y="1444">16</text>
<text x="1123" y="1465">17</text><text x="1144" y="1465">18</text><text x="1165" y="1465">19</text><text x="1187" y="1465">20</text><text x="1208" y="1465">21</text><text x="1229" y="1465">22</text>
<text x="1123" y="1487">23</text><text x="1144" y="1487">24</text><text x="1165" y="1487">25</text><text x="1187" y="1487">26</text><text x="1208" y="1487">27</text><text x="1229" y="1487">28</text>
</g>
<text x="1406" y="1537" text-anchor="end" font-size="17" style="font-weight:normal">WI-31122</text>
</svg>
</body></html>
